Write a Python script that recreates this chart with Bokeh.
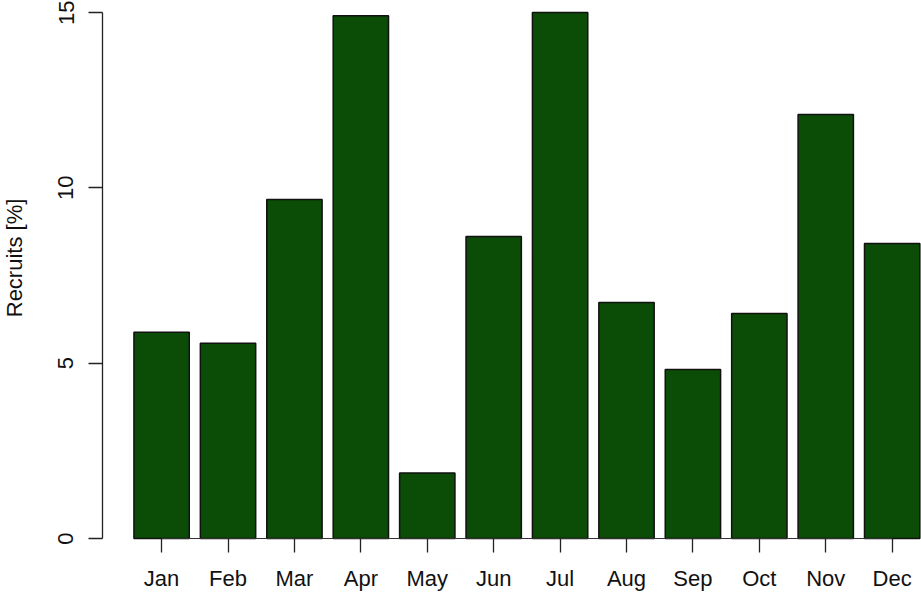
from bokeh.plotting import figure
from bokeh.models import ColumnDataSource, Range1d, FixedTicker, Label
from bokeh.embed import file_html
from bokeh.resources import INLINE
import math

months = ["Jan", "Feb", "Mar", "Apr", "May", "Jun", "Jul", "Aug", "Sep", "Oct", "Nov", "Dec"]
recruits = [5.88, 5.57, 9.67, 14.91, 1.87, 8.61, 15.0, 6.73, 4.82, 6.42, 12.09, 8.41]
y_ticks = [0, 5, 10, 15]
y_label = "Recruits [%]"

# R barplot layout: bar width 1, space 0.2
bar_width = 1.0
space = 0.2
centers = [space + bar_width / 2 + i * (bar_width + space) for i in range(len(months))]

source = ColumnDataSource(dict(x=centers, top=recruits, month=months))

FONT = "Liberation Sans"
FS = "22px"
Y_AXIS_POS = -0.368   # R's 4% extension of the bar extent

p = figure(width=921, height=593, output_backend="svg", toolbar_location=None,
           x_range=Range1d(-2.211, 14.43), y_range=Range1d(-1.568, 15.342),
           min_border_left=0, min_border_right=0, min_border_top=0, min_border_bottom=0)
p.outline_line_color = None
p.xgrid.visible = False
p.ygrid.visible = False
p.background_fill_color = "white"
p.border_fill_color = "white"

p.vbar(x="x", top="top", bottom=0, width=bar_width, source=source,
       fill_color="#0b4d06", line_color="#111111", line_width=1.5)

# R style axis lines: x from first to last bar centre, y from first to last tick
p.segment(x0=[centers[0]], y0=[0], x1=[centers[-1]], y1=[0], line_color="#333333", line_width=1.2)
p.segment(x0=[Y_AXIS_POS], y0=[y_ticks[0]], x1=[Y_AXIS_POS], y1=[y_ticks[-1]],
          line_color="#222222", line_width=1.3)

xa = p.xaxis[0]
xa.fixed_location = 0
xa.ticker = FixedTicker(ticks=centers)
xa.major_label_overrides = {c: m for c, m in zip(centers, months)}
xa.axis_line_color = None
xa.major_tick_out = 14
xa.major_tick_in = 0
xa.minor_tick_line_color = None
xa.major_tick_line_color = "#222222"
xa.major_tick_line_width = 1.3
xa.major_label_text_font = FONT
xa.major_label_text_font_size = FS
xa.major_label_text_color = "#111111"
xa.major_label_standoff = 13

ya = p.yaxis[0]
ya.fixed_location = Y_AXIS_POS
ya.ticker = FixedTicker(ticks=y_ticks)
ya.axis_line_color = None
ya.major_tick_out = 14
ya.major_tick_in = 0
ya.minor_tick_line_color = None
ya.major_tick_line_color = "#222222"
ya.major_tick_line_width = 1.3
ya.major_label_text_font = FONT
ya.major_label_text_font_size = FS
ya.major_label_text_color = "#111111"
ya.major_label_orientation = "vertical"
ya.major_label_standoff = 15

lab = Label(x=-1.95, y=8.0, text=y_label, angle=math.pi / 2, text_align="center",
            text_baseline="middle", text_font=FONT, text_font_size=FS, text_color="#111111")
p.add_layout(lab)

open("out.html", "w").write(file_html(p, INLINE))
